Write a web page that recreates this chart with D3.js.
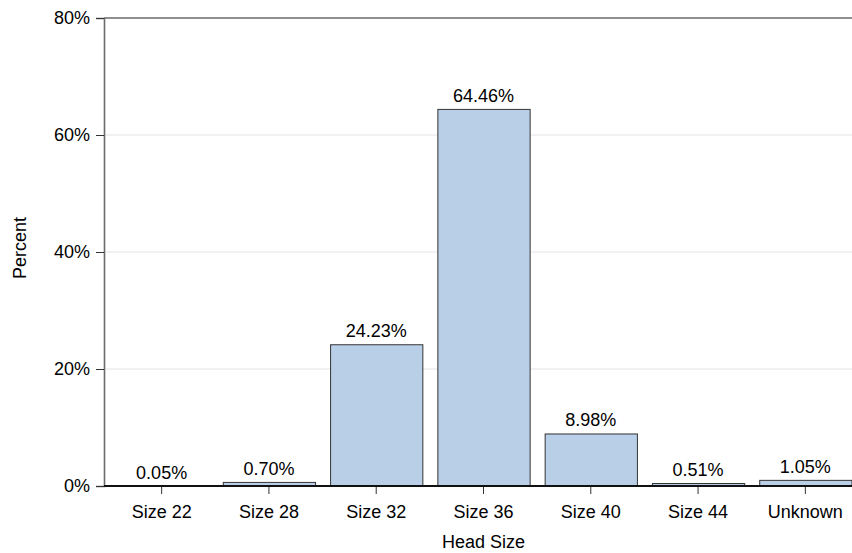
<!DOCTYPE html>
<html><head><meta charset="utf-8">
<script src="https://cdn.jsdelivr.net/npm/d3@7"></script>
<style>body{margin:0;background:#fff}svg{display:block}text{font-family:"Liberation Sans",Arial,Helvetica,sans-serif;fill:#000}</style>
</head><body><svg id="c" width="852" height="553"></svg>
<script>
const categories = ["Size 22","Size 28","Size 32","Size 36","Size 40","Size 44","Unknown"];
const values = [0.05, 0.70, 24.23, 64.46, 8.98, 0.51, 1.05];
const yTicks = [0, 20, 40, 60, 80];

(function () {
const svg = d3.select("#c");
const pl = 104, pt = 18, pb = 486;
const FF = '"Liberation Sans",Arial,sans-serif';
const x = d3.scaleBand().domain(categories).range([108, 859]).paddingInner(0.14).paddingOuter(0.07);
const y = d3.scaleLinear().domain([0, 80]).range([pb, pt]);

svg.append("g").selectAll("line").data(yTicks.filter(d => d > 0 && d < 80)).join("line")
  .attr("x1", pl).attr("x2", 852).attr("y1", d => y(d)).attr("y2", d => y(d))
  .attr("stroke", "#e4e4e4").attr("stroke-width", 1);

svg.append("line").attr("x1", pl).attr("x2", 852).attr("y1", y(80)).attr("y2", y(80))
  .attr("stroke", "#6b6b6b").attr("stroke-width", 1.6);

svg.append("g").selectAll("rect").data(values).join("rect")
  .attr("x", (d, i) => x(categories[i]) + 0.5)
  .attr("y", d => y(d) + 0.5)
  .attr("width", x.bandwidth())
  .attr("height", d => Math.max(0, pb - y(d)))
  .attr("fill", "#b9cfe7").attr("stroke", "#333").attr("stroke-width", 1);

svg.append("g").selectAll("text").data(values).join("text")
  .attr("x", (d, i) => x(categories[i]) + x.bandwidth() / 2)
  .attr("y", d => y(d) - 7)
  .attr("text-anchor", "middle").attr("font-size", 18)
  .text(d => d.toFixed(2) + "%");

const ya = svg.append("g").attr("transform", `translate(${pl},0)`)
  .call(d3.axisLeft(y).tickValues(yTicks).tickFormat(d => d + "%").tickSize(8).tickPadding(6));
ya.select(".domain").attr("stroke", "#6b6b6b").attr("stroke-width", 1.6);
ya.selectAll(".tick line").attr("stroke", "#333");
ya.selectAll(".tick text").attr("font-size", 18).attr("font-family", FF).attr("fill", "#000");

const xa = svg.append("g").attr("transform", `translate(0,${pb})`)
  .call(d3.axisBottom(x).tickSize(8).tickPadding(11).tickSizeOuter(0));
xa.select(".domain").remove();
svg.append("line").attr("x1", pl).attr("x2", 852).attr("y1", pb).attr("y2", pb)
  .attr("stroke", "#111").attr("stroke-width", 2);
xa.selectAll(".tick line").attr("stroke", "#333");
xa.selectAll(".tick text").attr("font-size", 18).attr("font-family", FF).attr("fill", "#000");

svg.append("text").attr("x", 483.5).attr("y", 548).attr("text-anchor", "middle").attr("font-size", 18).text("Head Size");
svg.append("text").attr("transform", "translate(26,248) rotate(-90)").attr("text-anchor", "middle").attr("font-size", 18).text("Percent");
})();
</script></body></html>
